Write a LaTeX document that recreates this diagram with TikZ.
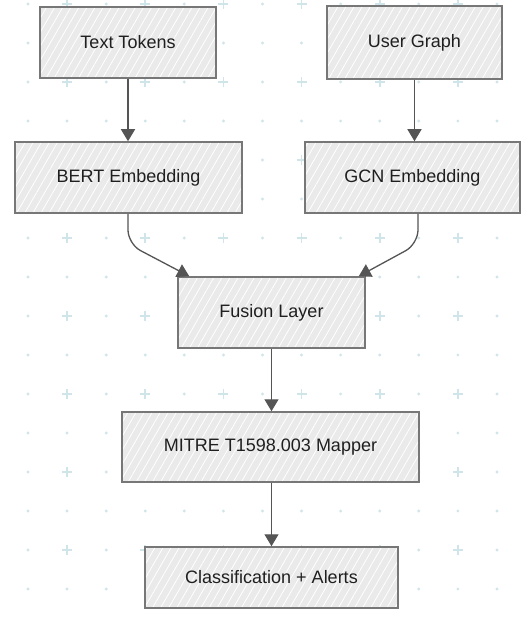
\documentclass[tikz,border=0pt]{standalone}
\usepackage{fontspec}
\setmainfont{Liberation Sans}
\usetikzlibrary{arrows.meta,patterns.meta,calc}
\definecolor{gridc}{HTML}{D0E5EA}
\definecolor{boxfill}{HTML}{EAEAEA}
\definecolor{boxline}{HTML}{777777}
\definecolor{linkc}{HTML}{555555}
\tikzset{
  stage/.style={draw=boxline, line width=1.5pt,
    preaction={fill=boxfill},
    preaction={pattern={Lines[angle=60,distance=7pt,line width=0.8pt]}, pattern color=white},
    minimum height=71pt, inner sep=0pt, font=\fontsize{18}{21}\selectfont, text=black!88},
  link/.style={draw=linkc, line width=1.3pt, -{Triangle[length=12pt,width=14pt]}, rounded corners=14pt},
  gdot/.style={fill=gridc},
  gplus/.style={draw=gridc, line width=1.8pt}
}
\begin{document}
\begin{tikzpicture}[x=1pt,y=-1pt]
\useasboundingbox (0,0) rectangle (521,620);
\fill[white] (0,0) rectangle (521,620);
% background dot/plus grid
\foreach \j in {0,...,15}{
  \foreach \i in {0,...,12}{
    \pgfmathsetmacro{\gx}{28+39.08*\i}
    \pgfmathsetmacro{\gy}{4+39*\j}
    \pgfmathtruncatemacro{\isplus}{(mod(\j,2)==0) && (mod(\i,2)==1)}
    \ifnum\isplus=1
      \draw[gplus] (\gx-5,\gy) -- (\gx+5,\gy) (\gx,\gy-5) -- (\gx,\gy+5);
    \else
      \fill[gdot] (\gx,\gy) circle (1.6);
    \fi
  }
}
% stages
\node[stage, minimum width=176pt, minimum height=71pt] (tt) at (128,42.5) {Text Tokens};
\node[stage, minimum width=175pt, minimum height=73pt] (ug) at (414.5,42.5) {User Graph};
\node[stage, minimum width=227pt] (bert) at (128.5,177.5) {BERT Embedding};
\node[stage, minimum width=215pt] (gcn) at (412.5,177.5) {GCN Embedding};
\node[stage, minimum width=187pt] (fus) at (271.5,312.5) {Fusion Layer};
\node[stage, minimum width=297pt, minimum height=70pt] (map) at (270.5,447) {MITRE T1598.003 Mapper};
\node[stage, minimum width=253pt, minimum height=61pt] (cls) at (271.5,577.5) {Classification + Alerts};
% connectors
\coordinate (finL) at ([xshift=12pt]fus.north west);
\coordinate (finR) at ([xshift=-7pt]fus.north east);
\coordinate (bendL) at (128,244);
\coordinate (bendR) at (418,244);
\draw[link] (tt.south) -- (bert.north -| tt.south);
\draw[link] (ug.south) -- (gcn.north -| ug.south);
\draw[link] (bert.south -| bendL) -- (bendL) -- (finL);
\draw[link] (gcn.south -| bendR) -- (bendR) -- (finR);
\draw[link] (fus.south) -- (map.north -| fus.south);
\draw[link] (map.south -| fus.south) -- (cls.north -| fus.south);
\end{tikzpicture}
\end{document}
